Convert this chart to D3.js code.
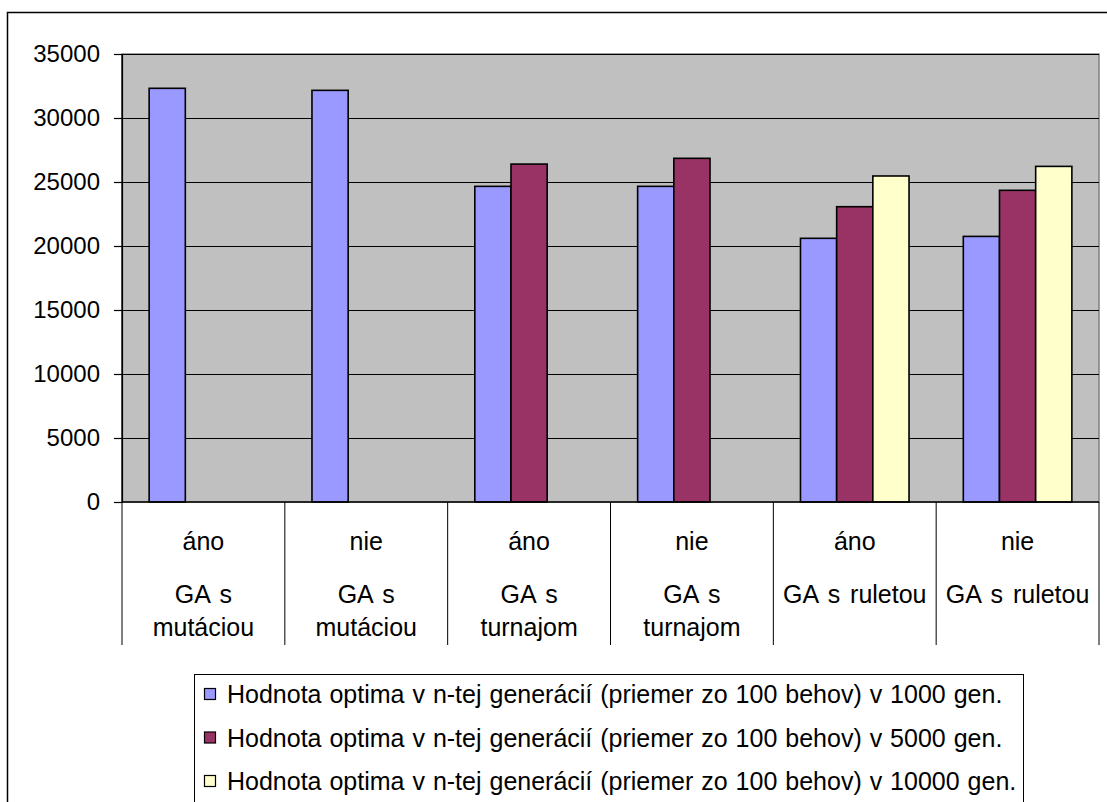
<!DOCTYPE html>
<html>
<head>
<meta charset="utf-8">
<script src="https://cdn.jsdelivr.net/npm/d3@7/dist/d3.min.js"></script>
<style>
  html, body { margin: 0; padding: 0; background: #fff; }
  svg { display: block; font-family: "Liberation Sans", Arial, sans-serif; }
</style>
</head>
<body>
<svg id="chart" width="1107" height="802"></svg>
<script>
// Upper category row (ano/nie) and the grouping row under it
const variantLabels = ["áno", "nie", "áno", "nie", "áno", "nie"];
const groupLabels = [
  ["GA s", "mutáciou"],
  ["GA s", "mutáciou"],
  ["GA s", "turnajom"],
  ["GA s", "turnajom"],
  ["GA s ruletou"],
  ["GA s ruletou"]
];

// Average best value over 100 runs, after 1000 / 5000 / 10000 generations
const gen1000 = [32320, 32160, 24660, 24660, 20600, 20750];
const gen5000 = [null, null, 26400, 26850, 23070, 24350];
const gen10000 = [null, null, null, null, 25470, 26220];

const seriesNames = [
  "Hodnota optima v n-tej generácií (priemer zo 100 behov) v 1000 gen.",
  "Hodnota optima v n-tej generácií (priemer zo 100 behov) v 5000 gen.",
  "Hodnota optima v n-tej generácií (priemer zo 100 behov) v 10000 gen."
];
const seriesColors = ["#9999FF", "#993366", "#FFFFCC"];

const yTicks = [0, 5000, 10000, 15000, 20000, 25000, 30000, 35000];

const seriesValues = [gen1000, gen5000, gen10000];

const svg = d3.select("#chart");
const W = 1107, H = 802;
const plot = { left: 122, right: 1099, top: 54, bottom: 502 };

// Outer chart frame
svg.append("rect")
  .attr("x", 7.5).attr("y", 12.5)
  .attr("width", W + 20).attr("height", H + 20)
  .attr("fill", "#fff").attr("stroke", "#000").attr("stroke-width", 1.5);

const cats = d3.range(variantLabels.length);
const x = d3.scaleBand().domain(cats).range([plot.left, plot.right]).padding(0);
const xSub = d3.scaleBand().domain(d3.range(seriesValues.length))
  .range([0, x.bandwidth()]).paddingInner(0).paddingOuter(0.75);
const y = d3.scaleLinear().domain([0, 35000]).range([plot.bottom, plot.top]);

// Plot area
svg.append("rect")
  .attr("x", plot.left).attr("y", plot.top)
  .attr("width", plot.right - plot.left).attr("height", plot.bottom - plot.top)
  .attr("fill", "#C0C0C0").attr("stroke", "#808080").attr("stroke-width", 1.5);

// Gridlines
svg.append("g").selectAll("line")
  .data(yTicks.filter(d => d > 0))
  .join("line")
  .attr("x1", plot.left).attr("x2", plot.right)
  .attr("y1", d => Math.round(y(d)) + 0.5).attr("y2", d => Math.round(y(d)) + 0.5)
  .attr("stroke", "#000").attr("stroke-width", 1);

// Bars
const barData = [];
seriesValues.forEach((vals, si) => {
  vals.forEach((v, ci) => {
    if (v != null) barData.push({ si, ci, v });
  });
});
svg.append("g").selectAll("rect")
  .data(barData)
  .join("rect")
  .attr("x", d => x(d.ci) + xSub(d.si))
  .attr("width", xSub.bandwidth())
  .attr("y", d => y(d.v))
  .attr("height", d => y(0) - y(d.v))
  .attr("fill", d => seriesColors[d.si])
  .attr("stroke", "#000").attr("stroke-width", 1.6);

// Y axis
const yAxis = svg.append("g")
  .attr("transform", `translate(${plot.left},0)`)
  .call(d3.axisLeft(y).tickValues(yTicks).tickSize(8).tickPadding(14).tickFormat(d3.format("d")));
yAxis.select(".domain").attr("stroke", "#000").attr("stroke-width", 1.2);
yAxis.selectAll(".tick line").attr("stroke", "#000").attr("stroke-width", 1.2);
yAxis.selectAll(".tick text")
  .attr("font-size", 24).attr("fill", "#000")
  .attr("font-family", "'Liberation Sans', Arial, sans-serif");

// X axis line
svg.append("line")
  .attr("x1", plot.left).attr("x2", plot.right)
  .attr("y1", plot.bottom).attr("y2", plot.bottom)
  .attr("stroke", "#000").attr("stroke-width", 1.5);

// Category separators below the axis
const sepX = cats.map(c => x(c)).concat([plot.right]);
svg.append("g").selectAll("line")
  .data(sepX)
  .join("line")
  .attr("x1", d => d).attr("x2", d => d)
  .attr("y1", (d, i) => (i === 0 ? plot.top : plot.bottom))
  .attr("y2", 645)
  .attr("stroke", "#000")
  .attr("stroke-width", 1);

// Category labels
const labels = svg.append("g")
  .attr("font-size", 25).attr("fill", "#000")
  .attr("text-anchor", "middle").attr("word-spacing", 3);
labels.selectAll("text.variant")
  .data(cats)
  .join("text")
  .attr("class", "variant")
  .attr("x", c => x(c) + x.bandwidth() / 2)
  .attr("y", 550)
  .text(c => variantLabels[c]);
cats.forEach(c => {
  groupLabels[c].forEach((line, li) => {
    labels.append("text")
      .attr("x", x(c) + x.bandwidth() / 2)
      .attr("y", 603 + li * 33)
      .text(line);
  });
});

// Legend
const legend = svg.append("g");
legend.append("rect")
  .attr("x", 194.5).attr("y", 674.5)
  .attr("width", 829).attr("height", 160)
  .attr("fill", "#fff").attr("stroke", "#000").attr("stroke-width", 1);
seriesNames.forEach((name, i) => {
  const cy = 694 + i * 43.5;
  legend.append("rect")
    .attr("x", 204.5).attr("y", cy - 5.5)
    .attr("width", 11).attr("height", 11)
    .attr("fill", seriesColors[i]).attr("stroke", "#000").attr("stroke-width", 1.2);
  legend.append("text")
    .attr("x", 227).attr("y", cy + 9)
    .attr("font-size", 25).attr("word-spacing", 1)
    .attr("fill", "#000")
    .text(name);
});
</script>
</body>
</html>
